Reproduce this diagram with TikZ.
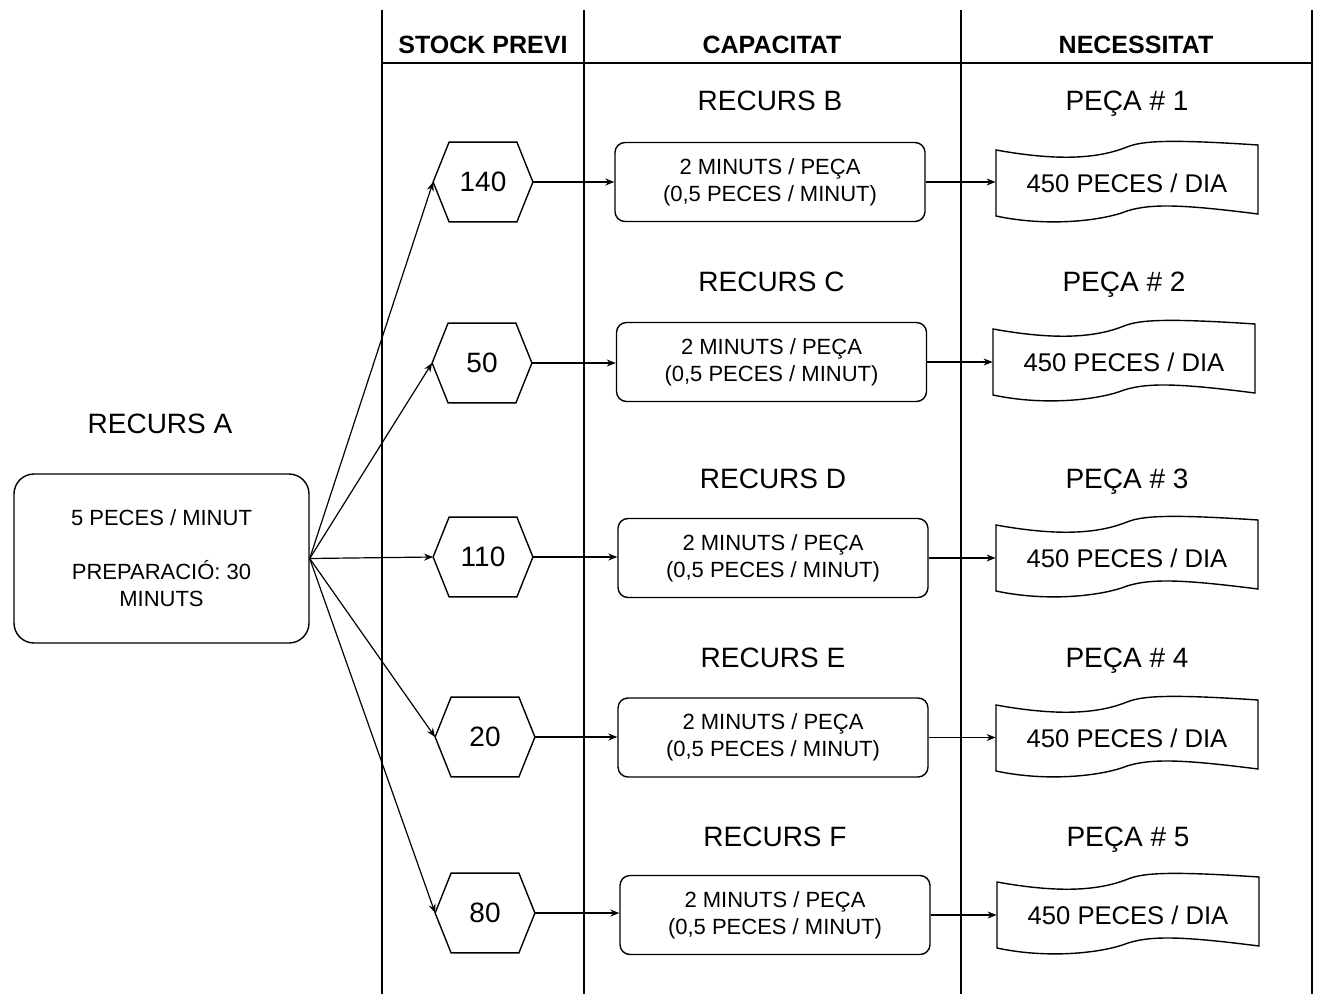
\documentclass[tikz,border=0pt]{standalone}
\usepackage{fontspec}
\setmainfont{Liberation Sans}
\usetikzlibrary{arrows.meta,calc}
\begin{document}
\begin{tikzpicture}[x=0.5pt,y=-0.5pt,
  frame/.style={line width=1.3pt},
  conn/.style={line width=0.6pt,-{Stealth[length=4.5pt,width=3.5pt]}},
  hdr/.style={font=\fontsize{12.5}{14}\selectfont\bfseries},
  lbl/.style={font=\fontsize{14}{16}\selectfont,text height=10pt,text depth=0pt},
  abox/.style={draw,line width=0.7pt,rounded corners=10pt,minimum width=147.5pt,minimum height=84.5pt,align=center,inner sep=0pt,font=\fontsize{11}{13.5}\selectfont},
  capbox/.style={draw,line width=0.7pt,rounded corners=5pt,minimum width=155pt,minimum height=39.5pt,align=center,inner sep=0pt,font=\fontsize{11}{13.5}\selectfont},
  hexbox/.style={minimum width=49.5pt,minimum height=39.5pt,inner sep=0pt,font=\fontsize{14}{16}\selectfont},
  docbox/.style={minimum width=131pt,minimum height=33pt,inner sep=0pt,font=\fontsize{12.8}{14}\selectfont},
  outline/.style={line width=0.7pt}
]
\useasboundingbox (0,0) rectangle (1320,994);

% table frame
\draw[frame] (382,10) -- (382,994);
\draw[frame] (584,10) -- (584,994);
\draw[frame] (961,10) -- (961,994);
\draw[frame] (1312,10) -- (1312,994);
\draw[frame] (382,63) -- (1312,63);

\node[hdr] (hs) at (483,45) {STOCK PREVI};
\node[hdr] (hc) at (772,45) {CAPACITAT};
\node[hdr] (hn) at (1136,45) {NECESSITAT};

% resource A
\node[lbl] (la) at (160,423) {RECURS A};
\node[abox] (A) at (161.5,558.5) {5 PECES / MINUT\\[13.5pt]PREPARACIÓ: 30\\MINUTS};

\foreach \i/\hx/\hy/\v/\cx/\cy/\dx/\dy/\r/\ry in {
  1/483/182/140/770/182/1127/183/B/101,
  2/482/363/50/771.5/362/1124/362/C/282,
  3/483/557/110/773/558/1127/558/D/478,
  4/485/737/20/773/737.5/1127/738/E/657,
  5/485/913/80/775/915/1128/915/F/836}{
  \node[hexbox] (h\i) at (\hx,\hy) {\v};
  \draw[outline] (h\i.west) -- ($(h\i.north west)+(16,0)$) -- ($(h\i.north east)+(-16,0)$)
     -- (h\i.east) -- ($(h\i.south east)+(-16,0)$) -- ($(h\i.south west)+(16,0)$) -- cycle;
  \node[capbox] (c\i) at (\cx,\cy) {2 MINUTS / PEÇA\\(0,5 PECES / MINUT)};
  \node[lbl] (r\i) at (\cx,\ry) {RECURS \r};
  \node[docbox] (d\i) at (\dx,\dy) {450 PECES / DIA};
  \draw[outline,shift={(d\i.center)}] (-131,-33) .. controls (-70,-22) and (-30,-24) .. (0,-36)
     .. controls (15,-42) and (40,-44) .. (131,-38) -- (131,31)
     .. controls (60,22) and (25,20) .. (0,28) .. controls (-25,38) and (-80,44) .. (-131,33) -- cycle;
  \node[lbl] (p\i) at (\dx,\ry) {PEÇA \# \i};
  \draw[conn] (A.east) -- (h\i.west);
  \draw[conn] (h\i.east) -- (h\i.east -| c\i.west);
  \draw[conn] (c\i.east) -- (c\i.east -| d\i.west);
}
\end{tikzpicture}
\end{document}
